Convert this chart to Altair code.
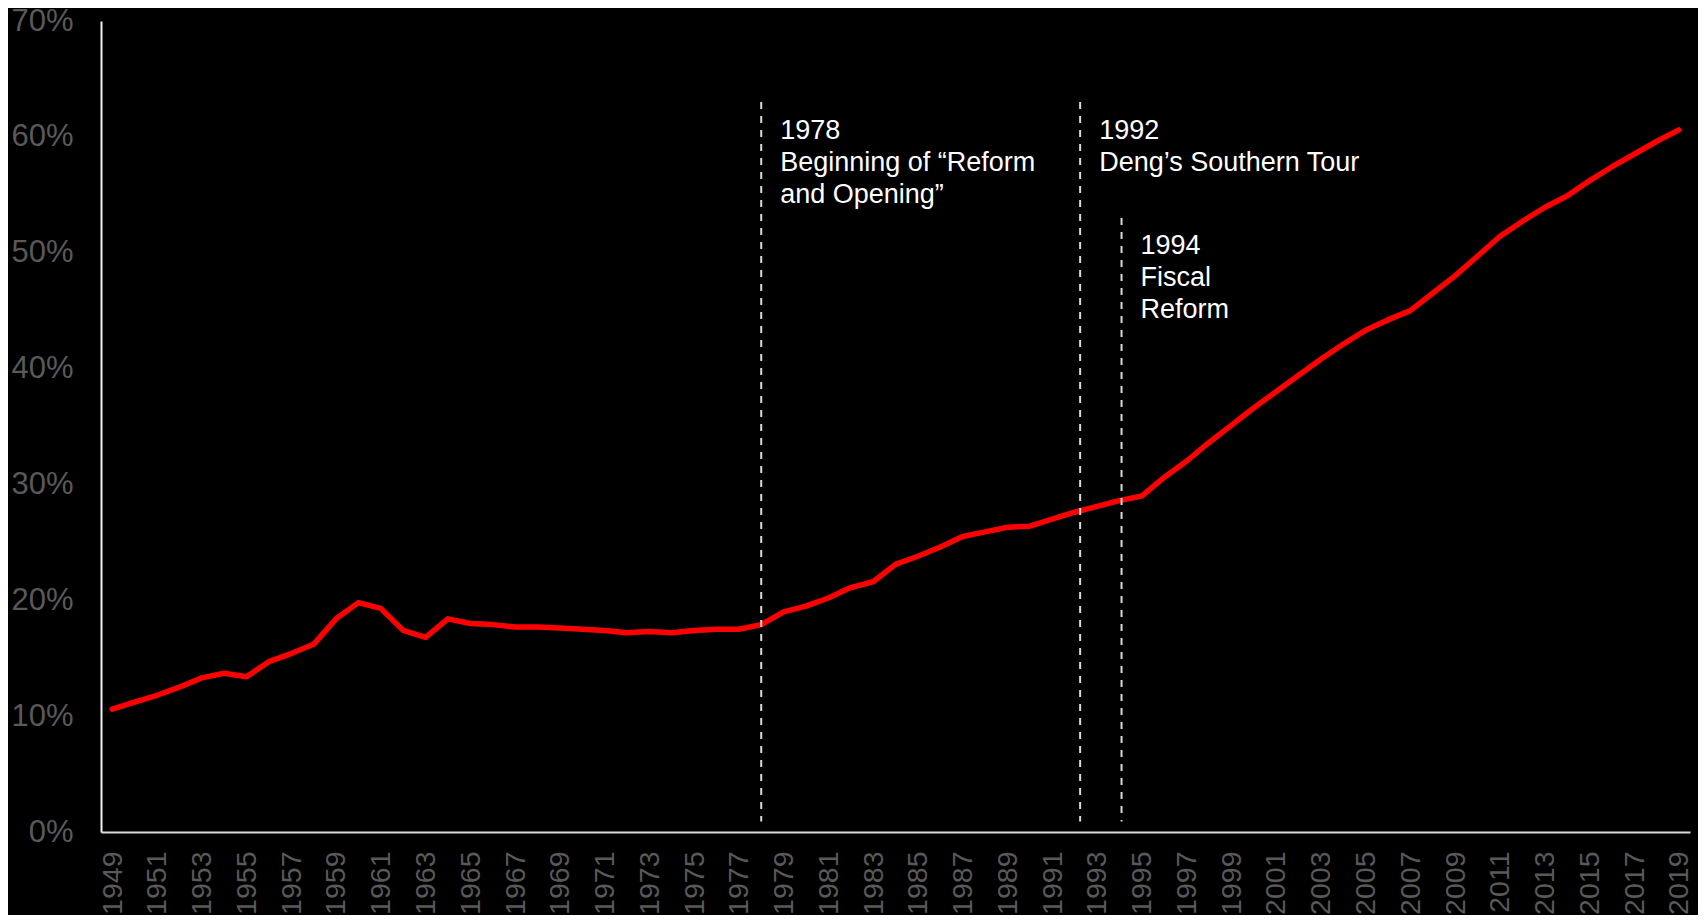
import altair as alt
import pandas as pd

# ---- data ----
years = list(range(1949, 2020))
share = [
    10.6, 11.2, 11.8, 12.5, 13.3, 13.7, 13.4, 14.7, 15.4, 16.2,   # 1949-1958
    18.4, 19.8, 19.3, 17.4, 16.8, 18.4, 18.0, 17.9, 17.7, 17.7,   # 1959-1968
    17.6, 17.5, 17.4, 17.2, 17.3, 17.2, 17.4, 17.5, 17.5, 17.9,   # 1969-1978
    19.0, 19.5, 20.2, 21.1, 21.6, 23.1, 23.8, 24.6, 25.5, 25.9,   # 1979-1988
    26.3, 26.4, 27.0, 27.6, 28.1, 28.6, 29.0, 30.6, 32.0, 33.6,   # 1989-1998
    35.1, 36.6, 38.0, 39.4, 40.8, 42.1, 43.3, 44.2, 45.0, 46.5,   # 1999-2008
    48.0, 49.7, 51.4, 52.7, 53.9, 54.9, 56.2, 57.4, 58.5, 59.6,   # 2009-2018
    60.6,                                                         # 2019
]
tick_years = list(range(1949, 2020, 2))
y_ticks = [0, 10, 20, 30, 40, 50, 60, 70]

event_year = [1978, 1992.25, 1994.1]
event_top = [63.0, 63.0, 53.0]
event_bottom = [0.9, 0.9, 0.9]
event_text_y = [61.6, 61.6, 51.7]
event_label = [
    "1978\nBeginning of \u201cReform\nand Opening\u201d",
    "1992\nDeng\u2019s Southern Tour",
    "1994\nFiscal\nReform",
]

df = pd.DataFrame({"year": years, "share": share})
ev = pd.DataFrame({
    "year": event_year,
    "top": event_top,
    "bottom": event_bottom,
    "ty": event_text_y,
    "label": event_label,
})

FONT = "Liberation Sans, Arial, sans-serif"

x_scale = alt.Scale(domain=[1948.5, 2019.5], nice=False, zero=False)
y_scale = alt.Scale(domain=[0, 70], nice=False, zero=True)

line = alt.Chart(df).mark_line(
    color="#ff0000", strokeWidth=5.5, strokeCap="round", strokeJoin="round"
).encode(
    x=alt.X("year:Q", scale=x_scale, title=None,
            axis=alt.Axis(values=tick_years, format="d", labelAngle=270,
                          labelFontSize=28.5, labelColor="#595959", labelFont=FONT,
                          labelPadding=19, ticks=False, tickSize=0, grid=False,
                          domainColor="#d9d9d9", domainWidth=2,
                          labelOverlap=False, labelFlush=False)),
    y=alt.Y("share:Q", scale=y_scale, title=None,
            axis=alt.Axis(values=y_ticks, labelExpr="datum.value + '%'",
                          labelFontSize=31, labelColor="#595959", labelFont=FONT,
                          labelPadding=28, ticks=False, tickSize=0, grid=False,
                          domainColor="#f2f2f2", domainWidth=2,
                          labelOverlap=False, labelFlush=False)),
)

rules = alt.Chart(ev).mark_rule(
    color="#d9d9d9", strokeWidth=2, strokeDash=[7, 7]
).encode(
    x=alt.X("year:Q", scale=x_scale),
    y=alt.Y("top:Q", scale=y_scale),
    y2="bottom:Q",
)

texts = alt.Chart(ev).mark_text(
    align="left", baseline="top", dx=19, fontSize=27, font=FONT,
    color="#ffffff", lineBreak="\n", lineHeight=32
).encode(
    x=alt.X("year:Q", scale=x_scale),
    y=alt.Y("ty:Q", scale=y_scale),
    text="label:N",
)

chart = alt.layer(line, rules, texts).properties(
    width=1589,
    height=811,
    background="#000000",
    padding={"left": 93, "top": 13, "right": 8, "bottom": 83},
    autosize=alt.AutoSizeParams(type="none"),
).configure_view(stroke=None)

chart.save("out.html", embed_options={"renderer": "svg", "actions": False})
